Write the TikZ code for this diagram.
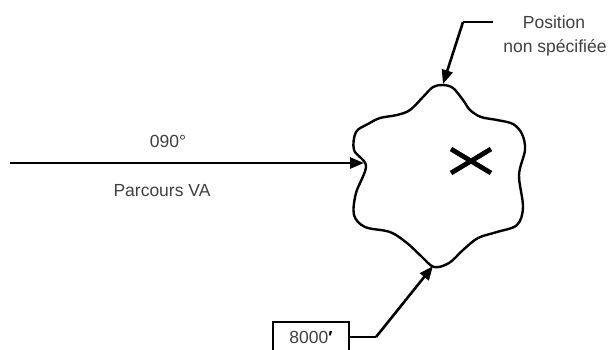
\documentclass[tikz,border=0pt]{standalone}
\usepackage{fontspec}
\setmainfont{Liberation Sans}
\usetikzlibrary{arrows.meta}

\tikzset{
  lbl/.style={font=\fontsize{17.5}{25}\selectfont, text=black!75, inner sep=0pt, align=center},
  lead/.style={line width=2.6pt, -{Triangle[length=14pt,width=11pt]}},
}

\begin{document}
\begin{tikzpicture}[x=1pt,y=-1pt]
  \useasboundingbox (0,0) rectangle (609,349);
  \draw[line width=2.4pt] plot[smooth cycle, tension=0.55] coordinates {
    (443,85) (453,88) (463,100) (470,110) (481,117) (497,120) (513,124) (522,134) (525,150)
    (519,175) (523,207) (517,225) (497,232) (478,238) (463,250) (449,263)
    (434,267) (421,256) (407,243) (390,232) (365,227) (354,215) (356,193)
    (366,166) (354,150) (356,132) (368,124) (380,118) (397,115) (410,110) (423,97) (433,87)
  };
  \coordinate (cltop) at (443,84);
  \coordinate (clleft) at (364,163);
  \coordinate (clbot) at (433,266);
  \draw[line width=4.8pt] (451,149) -- (491,173) (491,149) -- (451,173);

  \node[lbl] (hdg) at (168,141) {090°};
  \node[lbl] (trk) at (162,191) {Parcours VA};
  \node[lbl] (pos) at (554,22) {Position};
  \node[lbl] (nsp) at (555,48) {non spécifiée};
  \node[lbl, draw=black, line width=2.2pt, minimum width=76pt, minimum height=30pt] (alt) at (311,337) {8000{\bfseries\color{black}′}};

  \coordinate (start) at (10,163);
  \coordinate (pknee) at (463,22);
  \coordinate (aknee) at (376,337);
  \path[lead]
  (start) edge (clleft)
  ([xshift=-30pt]pos.west) edge[-] (pknee)
  (pknee) edge (cltop)
  (alt.east) edge[-] (aknee)
  (aknee) edge (clbot)
  ;
\end{tikzpicture}
\end{document}
